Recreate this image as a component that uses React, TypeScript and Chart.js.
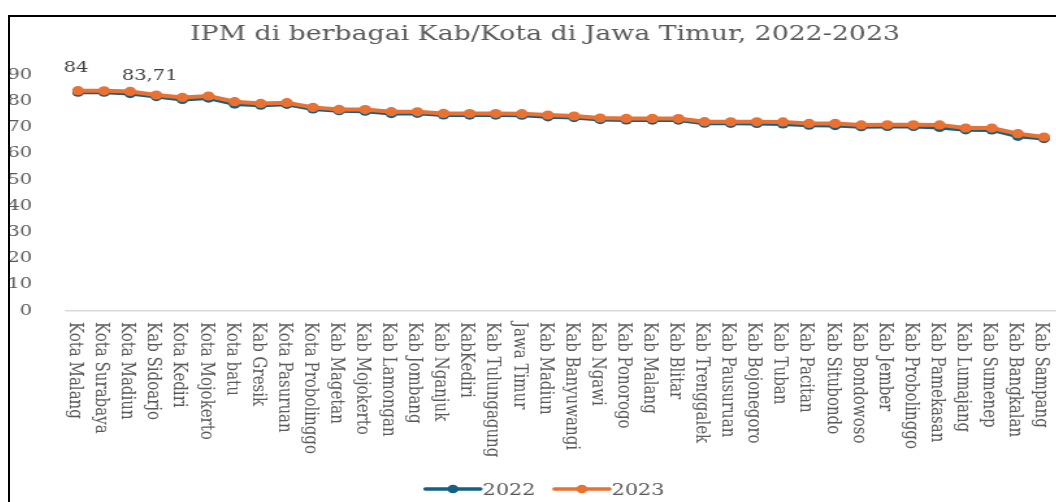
import React, { useEffect, useRef } from 'react';
import { Chart, registerables } from 'chart.js';

Chart.register(...registerables);

const titleText = 'IPM di berbagai Kab/Kota di Jawa Timur, 2022-2023';

const categories = [
  'Kota Malang', 'Kota Surabaya', 'Kota Madiun', 'Kab Sidoarjo', 'Kota Kediri',
  'Kota Mojokerto', 'Kota batu', 'Kab Gresik', 'Kota Pasuruan', 'Kota Probolinggo',
  'Kab Magetan', 'Kab Mojokerto', 'Kab Lamongan', 'Kab Jombang', 'Kab Nganjuk',
  'KabKediri', 'Kab Tulungagung', 'Jawa Timur', 'Kab Madiun', 'Kab Banyuwangi',
  'Kab Ngawi', 'Kab Ponorogo', 'Kab Malang', 'Kab Blitar', 'Kab Trenggalek',
  'Kab Pausuruan', 'Kab Bojonegoro', 'Kab Tuban', 'Kab Pacitan', 'Kab Situbondo',
  'Kab Bondowoso', 'Kab Jember', 'Kab Probolinggo', 'Kab Pamekasan', 'Kab Lumajang',
  'Kab Sumenep', 'Kab Bangkalan', 'Kab Sampang',
];

const ipm2022 = [
  83.45, 83.45, 82.91, 81.76, 80.64, 81.18, 78.9, 78.45, 78.82, 77.03,
  76.36, 76.2, 75.28, 75.35, 74.74, 74.7, 74.68, 74.65, 74.03, 73.74,
  72.98, 72.83, 72.8, 72.78, 71.57, 71.55, 71.52, 71.3, 70.82, 70.7,
  70.25, 70.38, 70.37, 69.95, 69.06, 69.02, 66.59, 65.73,
];

const ipm2023 = [
  84.0, 83.95, 83.71, 82.36, 81.44, 81.98, 79.8, 79.15, 79.42, 77.63,
  76.86, 76.8, 75.98, 75.95, 75.34, 75.3, 75.28, 75.25, 74.73, 74.34,
  73.58, 73.43, 73.4, 73.38, 72.17, 72.15, 72.12, 72.1, 71.52, 71.5,
  70.95, 70.98, 70.97, 70.95, 69.76, 69.72, 67.59, 66.33,
];

const seriesNames = ['2022', '2023'];
const yMin = 0;
const yMax = 90;
const yStep = 10;

// indices of the 2023 series that carry a data label
const labelledIndices = [0, 2];
// label offsets (styling only)
const labelOffsets = [
  { dx: -1.5, dy: -23 },
  { dx: 15, dy: -15.5 },
];

const BLUE = '#156082';
const ORANGE = '#E97132';
const TEXT = '#595959';
const SX = 1.3;
const SERIF = '"DejaVu Serif", serif';

const decorPlugin = {
  id: 'decor',
  beforeDatasetsDraw(chart: any) {
    const { ctx, chartArea, scales } = chart;
    const xs = scales.x;
    const ys = scales.y;
    const step = xs.getPixelForValue(1) - xs.getPixelForValue(0);
    const y0 = ys.getPixelForValue(0);
    ctx.save();
    ctx.strokeStyle = '#d9d9d9';
    ctx.lineWidth = 1.5;
    ctx.beginPath();
    ctx.moveTo(chartArea.left - step / 2, y0);
    ctx.lineTo(chartArea.right + step / 2, y0);
    ctx.stroke();
    ctx.restore();
  },
  afterDraw(chart: any) {
    const { ctx, scales, width } = chart;
    const xs = scales.x;
    const ys = scales.y;
    const y0 = ys.getPixelForValue(0);
    ctx.save();

    // title
    ctx.fillStyle = TEXT;
    ctx.font = `20.6px ${SERIF}`;
    ctx.textAlign = 'center';
    ctx.textBaseline = 'alphabetic';
    const cx = width / 2 + 9;
    ctx.fillText(titleText, cx, 23);

    // category labels, rotated clockwise
    ctx.font = `15px ${SERIF}`;
    ctx.textAlign = 'left';
    ctx.textBaseline = 'middle';
    categories.forEach((c, i) => {
      const x = xs.getPixelForValue(i) - 2.3;
      ctx.save();
      ctx.translate(x, y0 + 11.3);
      ctx.rotate(Math.PI / 2);
      ctx.fillText(c, 0, 0);
      ctx.restore();
    });

    // data labels
    const meta = chart.getDatasetMeta(1);
    ctx.font = `15px ${SERIF}`;
    ctx.fillStyle = '#404040';
    ctx.textAlign = 'center';
    ctx.textBaseline = 'middle';
    labelledIndices.forEach((idx, k) => {
      const pt = meta.data[idx];
      const v = ipm2023[idx];
      const txt = String(v).replace('.', ',');
      ctx.fillText(txt, pt.x + labelOffsets[k].dx, pt.y + labelOffsets[k].dy);
    });

    // legend
    const items = chart.data.datasets.map((d: any) => ({ label: d.label, color: d.borderColor }));
    ctx.font = `16px ${SERIF}`;
    const lineLen = 42.3;
    const gap = 1.6;
    const itemGap = 14.6;
    const widths = items.map((it: any) => lineLen + gap + ctx.measureText(it.label).width);
    const total = widths.reduce((a: number, b: number) => a + b, 0) + itemGap * (items.length - 1);
    let x = cx - total / 2;
    const ly = 472;
    items.forEach((it: any, i: number) => {
      ctx.strokeStyle = it.color;
      ctx.lineWidth = 3.5;
      ctx.lineCap = 'round';
      ctx.beginPath();
      ctx.moveTo(x, ly);
      ctx.lineTo(x + lineLen, ly);
      ctx.stroke();
      ctx.fillStyle = it.color;
      ctx.beginPath();
      ctx.arc(x + lineLen / 2, ly, 4.3, 0, Math.PI * 2);
      ctx.fill();
      ctx.fillStyle = TEXT;
      ctx.textAlign = 'left';
      ctx.textBaseline = 'alphabetic';
      ctx.fillText(it.label, x + lineLen + gap, 478);
      x += widths[i] + itemGap;
    });

    ctx.restore();
  },
};

export default function App() {
  const canvasRef = useRef<HTMLCanvasElement | null>(null);

  useEffect(() => {
    if (!canvasRef.current) return;
    const chart = new Chart(canvasRef.current, {
      type: 'line',
      data: {
        labels: categories,
        datasets: [
          {
            label: seriesNames[0],
            data: ipm2022,
            borderColor: BLUE,
            backgroundColor: BLUE,
            pointBackgroundColor: BLUE,
            pointBorderColor: BLUE,
            borderWidth: 4,
            pointRadius: 4.6,
            pointBorderWidth: 0,
            tension: 0,
            order: 2,
          },
          {
            label: seriesNames[1],
            data: ipm2023,
            borderColor: ORANGE,
            backgroundColor: ORANGE,
            pointBackgroundColor: ORANGE,
            pointBorderColor: ORANGE,
            borderWidth: 4,
            pointRadius: 4.6,
            pointBorderWidth: 0,
            tension: 0,
            order: 1,
          },
        ],
      },
      options: {
        responsive: true,
        maintainAspectRatio: false,
        animation: false,
        layout: { padding: { top: 58, right: 9.6, bottom: 0, left: 0 } },
        plugins: {
          legend: { display: false },
          title: { display: false },
          tooltip: { enabled: false },
        },
        scales: {
          x: {
            type: 'category',
            offset: false,
            grid: { display: false },
            border: { display: false },
            ticks: { display: false },
            afterFit: (s: any) => {
              s.height = 191.3;
            },
          },
          y: {
            min: yMin,
            max: yMax,
            ticks: {
              stepSize: yStep,
              padding: 27.3,
              color: TEXT,
              font: { family: SERIF, size: 15 },
            },
            grid: { display: false },
            border: { display: false },
            afterFit: (s: any) => {
              s.width = 52.3;
            },
          },
        },
      },
      plugins: [decorPlugin],
    });
    return () => chart.destroy();
  }, []);

  return (
    <div
      style={{
        position: 'absolute',
        left: 8,
        top: 15,
        width: 1048,
        height: 487,
        boxSizing: 'border-box',
        borderLeft: '2px solid #000',
        borderTop: '2px solid #000',
        overflow: 'hidden',
        background: '#fff',
      }}
    >
      <div
        style={{
          position: 'relative',
          width: 805,
          height: 485,
          transform: `scaleX(${SX})`,
          transformOrigin: '0 0',
        }}
      >
        <canvas ref={canvasRef} style={{ display: 'block' }} />
      </div>
    </div>
  );
}
